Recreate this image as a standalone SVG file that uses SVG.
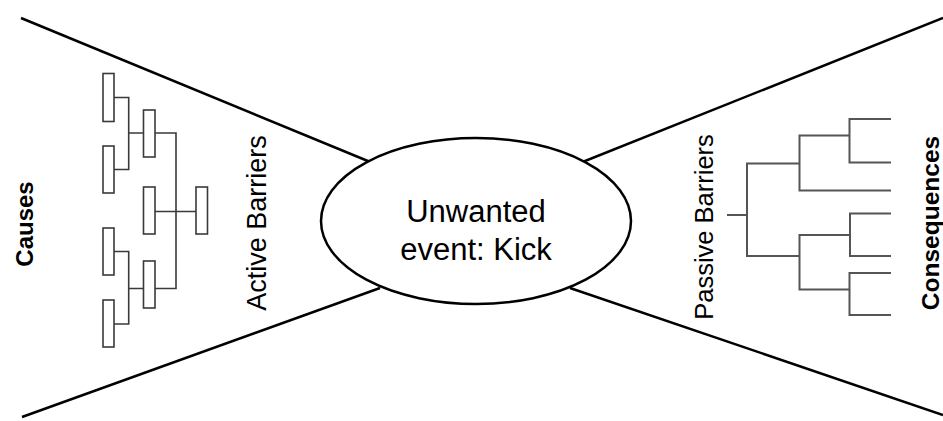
<svg xmlns="http://www.w3.org/2000/svg" width="943" height="421" viewBox="0 0 943 421">
<style>
.bow{stroke:#000;stroke-width:2.5;fill:none}
.ell{stroke:#000;stroke-width:2.5;fill:#fff}
.box{fill:#fff;stroke:#3a3a3a;stroke-width:1.6}
.tl{stroke:#3a3a3a;stroke-width:1.6;fill:none}
.tr{stroke:#555;stroke-width:2;fill:none}
.lbl{font-family:"Liberation Sans",Arial,sans-serif;fill:#000}
.b{font-weight:bold}
</style>
<rect width="943" height="421" fill="#fff"/>
<g id="connectors">
<line class="bow" x1="21" y1="18" x2="380" y2="166"/>
<line class="bow" x1="22" y1="417" x2="380" y2="288"/>
<line class="bow" x1="943" y1="18" x2="570" y2="167"/>
<line class="bow" x1="943" y1="415" x2="570" y2="288"/>
</g>
<g id="event">
<ellipse class="ell" cx="476" cy="221" rx="155" ry="83"/>
<text class="lbl" x="476" y="222" font-size="31" text-anchor="middle">Unwanted</text>
<text class="lbl" x="476" y="260" font-size="31" text-anchor="middle">event: Kick</text>
</g>
<g id="causes-label">
<text class="lbl b" transform="translate(33,224) rotate(-90)" font-size="24" text-anchor="middle">Causes</text>
</g>
<g id="active-barriers">
<text class="lbl" transform="translate(266,223) rotate(-90)" font-size="27" text-anchor="middle">Active Barriers</text>
</g>
<g id="passive-barriers">
<text class="lbl" transform="translate(713,227) rotate(-90)" font-size="25.5" text-anchor="middle">Passive Barriers</text>
</g>
<g id="consequences-label">
<text class="lbl b" transform="translate(939,223) rotate(-90)" font-size="24.5" text-anchor="middle">Consequences</text>
</g>
<g id="cause-tree">
<path class="tl" d="M114,97.5H128.7V169.5H114 M128.7,133H143.5 M155,133H176V288.5H155 M155,211.5H196 M114,251.5H128.7V324H114 M128.7,288.5H143.5"/>
<rect class="box" x="103" y="73.5" width="11" height="48"/>
<rect class="box" x="103" y="146" width="11" height="47"/>
<rect class="box" x="103" y="228" width="11" height="47"/>
<rect class="box" x="103" y="300" width="11" height="47"/>
<rect class="box" x="143.5" y="110" width="11.5" height="47"/>
<rect class="box" x="143.5" y="187" width="11.5" height="47"/>
<rect class="box" x="143.5" y="261" width="11.5" height="47"/>
<rect class="box" x="196" y="187" width="11.5" height="47"/>
</g>
<g id="consequence-tree">
<path class="tr" d="M727,215H747 M799.5,163.5H747V256H799.5 M849.5,135.5H799.5V190.5H891 M891,119H849.5V162.5H891 M850,235H799.5V289.5H849.5 M891,213.5H850V256H891 M891,273H849.5V315H891"/>
</g>
</svg>
